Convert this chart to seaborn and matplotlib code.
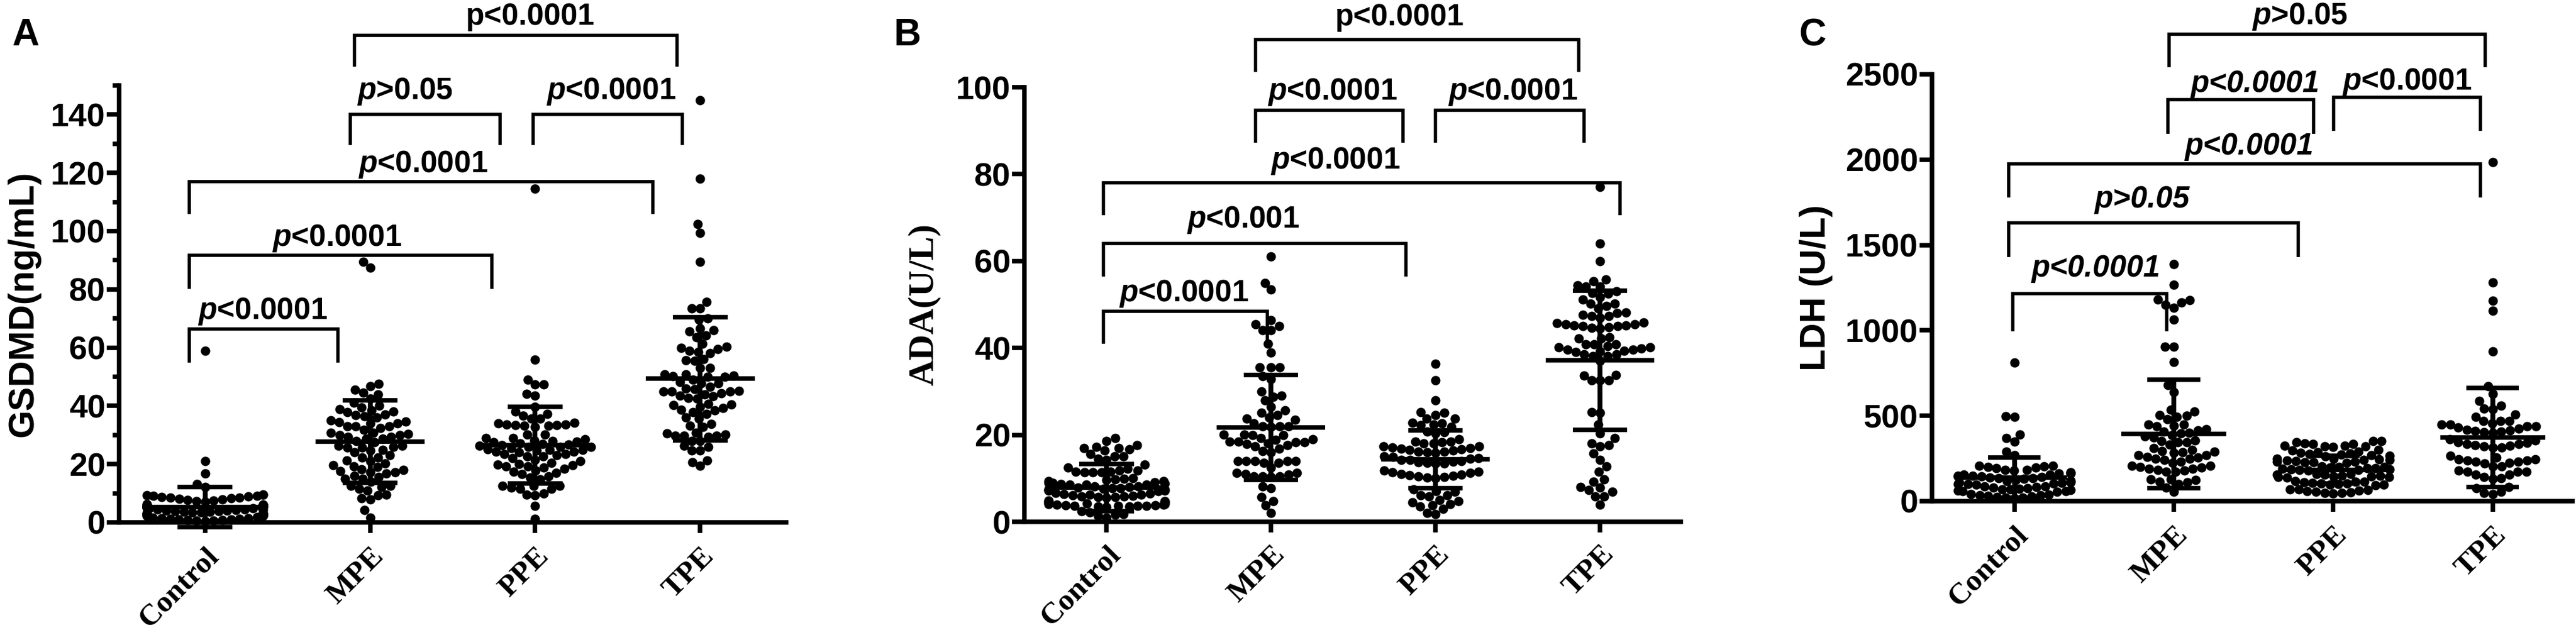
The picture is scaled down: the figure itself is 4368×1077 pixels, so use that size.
import warnings

import numpy as np
import pandas as pd
import matplotlib
matplotlib.use("Agg")
import matplotlib.pyplot as plt
import seaborn as sns
from matplotlib.ticker import MultipleLocator

warnings.filterwarnings("ignore")

GROUPS = ["Control", "MPE", "PPE", "TPE"]

# ---- panel A: GSDMD (ng/mL) ----
GSDMD_CONTROL = [59.0, 21.1, 16.9, 13.2, 12.2,
                 9.6, 9.4, 9.2, 8.9, 8.6, 8.2, 7.8, 7.4, 7.1, 7.3, 7.7, 8.1, 8.5, 8.8, 9.1, 9.5,
                 6.2, 6.0, 5.9, 5.8, 5.6, 5.5, 5.4, 5.3, 5.2, 5.1, 5.0, 4.9, 4.9, 5.0, 5.1, 5.2,
                 5.3, 5.4, 5.5, 5.7, 5.8, 6.0, 6.1,
                 4.5, 4.3, 4.1, 3.9, 3.7, 3.5, 3.3, 3.1, 2.9, 2.7, 2.5, 2.3, 2.2, 2.4, 2.6, 2.8,
                 3.0, 3.2, 3.4, 3.6, 3.8, 4.0, 4.2, 4.4,
                 1.8, 1.5, 1.3, 1.1, 0.9, 0.7, 0.5, 0.6, 0.8, 1.0, 1.2, 1.4, 1.7]
GSDMD_MPE = [89.5, 87.5, 47.6, 45.6, 44.0, 44.6, 46.8, 42.5, 41.0,
             38.9, 38.0, 40.0, 39.5, 38.5, 36.8, 36.0, 36.5, 37.8, 37.0,
             34.6, 34.0, 33.0, 33.0, 31.8, 32.4, 33.0, 34.0, 34.5, 35.0,
             30.7, 30.4, 30.0, 29.4, 28.7, 28.7, 29.4, 30.0, 30.7, 28.0, 27.5,
             26.4, 26.0, 25.7, 24.7, 23.0, 22.3, 22.3, 24.0, 25.0, 25.7, 26.4,
             21.0, 19.6, 19.0, 18.0, 17.2, 17.2, 17.6, 18.2, 19.3, 20.3, 21.3, 16.0,
             15.5, 14.9, 12.5, 12.2, 12.5, 13.9, 14.9, 16.9, 11.5,
             9.5, 8.4, 7.8, 9.3, 10.9, 4.2, 1.7]
GSDMD_PPE = [114.5, 55.8, 49.0, 47.4, 47.4, 43.6, 44.2, 39.6, 37.3, 36.6, 38.1,
             35.6, 34.3, 33.7, 33.5, 33.1, 32.7, 33.1, 33.5, 33.7, 34.1, 35.6, 30.1, 30.1,
             29.0, 28.0, 27.2, 26.3, 25.5, 24.7, 25.1, 25.9, 26.8, 27.6, 28.5, 29.0,
             28.2, 27.0, 26.5, 27.8,
             26.0, 25.0, 24.2, 23.4, 22.7, 22.7, 23.4, 24.2, 25.0, 26.0, 24.0, 23.0, 22.0,
             21.5, 21.0, 20.5,
             19.8, 19.2, 18.8, 17.9, 17.1, 15.8, 16.7, 17.5, 18.4, 19.2, 19.6, 20.0,
             14.8, 15.4, 12.5, 12.0, 11.6, 11.6, 12.5, 12.5, 9.9, 9.3, 9.5, 5.6, 1.3]
GSDMD_TPE = [145.0, 118.0, 102.5, 99.4, 89.5, 75.8, 73.5, 73.5,
             69.7, 70.1, 65.9, 64.2, 65.5, 66.5, 63.6,
             61.3, 59.0, 58.1, 60.0, 60.4, 58.5, 59.6, 55.6, 55.4, 56.0,
             53.0, 53.0, 50.8, 50.3, 49.9, 49.9, 50.5, 50.8, 48.2, 47.8, 47.8, 49.0,
             46.5, 45.7, 45.0, 44.9, 44.9, 45.2, 45.9, 44.4, 43.6, 42.8, 42.6, 43.4, 44.0,
             40.7, 40.2, 40.4, 39.6, 38.7, 37.9, 37.3, 38.4, 39.2,
             36.0, 35.6, 33.2, 32.7, 33.9,
             30.8, 30.1, 29.7, 29.7, 29.4, 29.7, 30.6, 28.0, 26.3, 25.9, 28.0,
             24.7, 24.7, 21.3, 19.4, 20.6]
GSDMD_MEAN = [5.3, 27.8, 26.5, 49.3]
GSDMD_SD = [6.9, 14.2, 13.1, 21.2]

# ---- panel B: ADA (U/L) ----
ADA_CONTROL = [19.2, 18.6, 17.0, 16.7, 17.6, 17.2, 16.4, 17.0,
               15.6, 15.1, 14.5, 15.1, 14.3,
               13.1, 12.2, 11.8, 11.4, 11.6, 11.6, 11.4, 11.4, 11.8, 12.5,
               9.8, 9.4, 9.1, 8.9, 8.7, 8.6, 8.5, 8.6, 8.8, 9.0, 9.3, 9.6, 9.9, 10.0,
               8.1, 7.9, 7.7, 7.5, 7.3, 7.2, 7.1, 7.2, 7.4, 7.6, 7.8, 8.0, 8.2,
               6.6, 6.4, 6.2, 6.0, 5.8, 5.7, 5.6, 5.7, 5.9, 6.1, 6.3, 6.5,
               4.9, 4.7, 4.5, 4.3, 4.1, 4.0, 4.1, 4.2, 4.4, 4.6, 4.8,
               3.8, 3.7, 3.6, 3.5, 3.4, 3.5, 3.6, 3.7, 3.8, 3.9,
               2.2, 1.8, 1.3, 1.0, 1.6, 2.4]
ADA_MPE = [61.0, 55.0, 53.4, 46.4, 45.1, 44.1, 44.1, 45.5, 41.0, 39.0,
           35.5, 35.5, 35.5, 33.5, 32.8, 30.0, 28.7, 28.0, 29.0, 26.5,
           25.1, 24.0, 23.5, 23.8, 24.6, 25.6,
           21.9, 22.0, 22.6, 22.0, 22.0, 20.1, 19.2, 19.9, 20.1, 19.9,
           18.8, 18.5, 18.3, 18.0, 17.6, 16.0, 17.4, 17.9, 18.3, 18.5, 19.0, 16.8,
           16.3, 14.0, 14.0, 13.6, 13.6, 14.0, 14.0, 14.0, 12.5,
           11.2, 10.9, 10.5, 10.5, 10.3, 10.5, 11.0, 11.2,
           7.7, 8.1, 4.8, 5.7, 3.8, 2.1]
ADA_PPE = [36.4, 32.6, 28.0, 25.3, 25.1,
           23.8, 22.8, 22.4, 21.8, 22.2, 22.7, 23.8, 24.6,
           20.6, 19.0, 18.5, 18.0, 18.0, 18.3, 18.5, 20.3, 20.7,
           17.4, 17.1, 16.8, 16.5, 16.2, 16.0, 15.9, 16.1, 16.4, 16.7, 17.0, 17.3,
           15.0, 14.6, 14.3, 14.0, 13.7, 13.5, 13.4, 13.6, 13.9, 14.2, 14.5, 14.9,
           11.8, 11.4, 11.0, 10.7, 10.4, 10.2, 10.1, 10.3, 10.6, 10.9, 11.2, 11.6,
           7.1, 6.1, 5.8, 5.0, 6.1, 6.9, 7.4,
           4.5, 3.8, 3.0, 1.8, 2.1, 3.5, 4.1, 4.8]
ADA_TPE = [77.1, 64.0, 60.0, 55.4, 54.1, 54.1, 54.4, 55.7, 53.0, 52.5, 51.7, 52.6,
           51.1, 50.2, 50.2, 49.6, 49.1, 48.0, 47.3, 47.3, 47.6, 48.2, 47.0,
           45.7, 45.5, 45.2, 45.0, 44.8, 44.5, 44.7, 45.0, 45.2, 45.5, 45.8,
           42.5, 42.2, 42.2, 40.9, 40.4, 40.1, 39.9, 40.1, 40.8, 40.8,
           39.6, 39.3, 39.1, 38.5, 38.1, 37.0, 38.1, 38.5, 39.2, 39.6,
           33.7, 32.5, 32.5, 32.5, 33.8,
           25.1, 25.3, 22.4, 20.3, 19.3, 18.0, 17.4, 17.7, 15.7, 14.3, 12.7, 11.5,
           9.2, 9.8, 7.9, 7.3, 8.0, 6.9, 5.9, 5.8, 4.0]
ADA_MEAN = [7.9, 21.7, 14.35, 37.2]
ADA_SD = [5.4, 12.1, 6.65, 16.0]

# ---- panel C: LDH (U/L) ----
LDH_CONTROL = [813, 498, 495, 391, 368, 349, 291, 270,
               207, 204, 196, 184, 178, 184, 192, 201, 207,
               168, 162, 156, 150, 145, 140, 136, 132, 135, 139, 144, 149, 155, 161, 167,
               124, 118, 112, 106, 101, 97, 100, 104, 109, 115, 121,
               88, 82, 76, 70, 64, 58, 54, 57, 62, 68, 74, 80, 86,
               42, 36, 30, 25, 20, 18, 22, 27, 33, 39]
LDH_MPE = [1387, 1268, 1177, 1151, 1133, 1162, 1180, 1062, 903, 903, 815, 679, 639, 535, 526,
           501, 480, 449, 437, 443, 449, 495, 503, 420,
           414, 397, 380, 357, 345, 345, 351, 374, 386, 399, 408, 330, 310,
           299, 291, 282, 270, 224, 247, 259, 270, 288, 293,
           256, 250, 240, 232,
           207, 201, 190, 178, 173, 173, 184, 190, 196, 207,
           123, 115, 100, 112, 127, 127, 54, 80]
LDH_PPE = [334, 320, 322, 351, 335, 351, 340, 318, 323, 323, 345,
           300, 290, 282, 275, 268, 262, 266, 272, 280, 288, 296,
           250, 245, 240, 236, 232, 228, 226, 229, 233, 238, 243, 248,
           205, 200, 195, 190, 186, 182, 180, 183, 187, 192, 197, 202,
           160, 155, 150, 146, 142, 139, 141, 145, 149, 154, 158,
           118, 113, 108, 102, 97, 93, 96, 100, 105, 110, 115,
           70, 64, 58, 52, 48, 45, 50, 56, 62, 68]
LDH_TPE = [1985, 1280, 1173, 1115, 876, 675, 628, 559, 539, 542, 587,
           509, 471, 471, 450, 450, 457, 471, 495,
           440, 430, 419, 412, 405, 402, 408, 415, 423, 437,
           361, 345, 334, 327, 320, 314, 314, 323, 334, 341, 355,
           266, 246, 239, 232, 225, 205, 205, 222, 232, 239, 246, 255,
           180, 171, 157, 143, 130, 136, 157, 171, 171,
           82, 55, 41, 48, 75]
LDH_MEAN = [137, 393, 184, 372]
LDH_SD = [118, 318, 82, 290]

# significance brackets: x_left, x_right, y_line, y_leg, label, text_x, text_y, style
GSDMD_BRACKETS = [
    (-0.094, 0.805, 66.4, 54.8, "p<0.0001", 0.35, 69.9, "pit"),
    (-0.094, 1.738, 91.8, 80.1, "p<0.0001", 0.80, 95.0, "pit"),
    (-0.094, 2.711, 117.1, 105.9, "p<0.0001", 1.32, 120.2, "pit"),
    (0.879, 1.789, 140.1, 129.5, "p>0.05", 1.21, 145.3, "pit"),
    (1.987, 2.893, 140.1, 129.5, "p<0.0001", 2.46, 145.3, "pit"),
    (0.906, 2.859, 167.2, 156.5, "p<0.0001", 1.97, 170.9, "plain"),
]
ADA_BRACKETS = [
    (-0.02, 0.976, 48.5, 41.0, "p<0.0001", 0.47, 50.8, "pit"),
    (-0.02, 1.818, 64.0, 56.5, "p<0.001", 0.83, 67.7, "pit"),
    (-0.02, 3.121, 78.0, 70.5, "p<0.0001", 1.39, 81.3, "pit"),
    (0.906, 1.801, 94.7, 87.2, "p<0.0001", 1.37, 97.2, "pit"),
    (2.0, 2.902, 94.7, 87.2, "p<0.0001", 2.47, 97.2, "pit"),
    (0.906, 2.869, 111.0, 103.5, "p<0.0001", 1.78, 114.3, "plain"),
]
LDH_BRACKETS = [
    (-0.01, 0.956, 1214, 993, "p<0.0001", 0.51, 1314, "allit"),
    (-0.034, 1.782, 1629, 1429, "p>0.05", 0.80, 1719, "allit"),
    (-0.034, 2.924, 1976, 1779, "p<0.0001", 1.47, 2029, "allit"),
    (0.963, 1.875, 2350, 2152, "p<0.0001", 1.51, 2398, "allit"),
    (2.002, 2.924, 2367, 2167, "p<0.0001", 2.46, 2410, "pit"),
    (0.970, 2.951, 2736, 2540, "p>0.05", 1.79, 2795, "pit"),
]

sns.set_style("ticks")
plt.rcParams["font.family"] = ["Liberation Sans", "DejaVu Sans"]
plt.rcParams["font.weight"] = "bold"
plt.rcParams["mathtext.fontset"] = "custom"
plt.rcParams["mathtext.it"] = "Liberation Sans:italic:bold"
plt.rcParams["mathtext.rm"] = "Liberation Sans:bold"
for key in ["axes.edgecolor", "xtick.color", "ytick.color", "text.color", "axes.labelcolor"]:
    plt.rcParams[key] = "black"

LW = 5.5
SQUASH = 0.88


def make_frame(groups):
    rows = []
    for name, vals in zip(GROUPS, groups):
        rows += [(name, v) for v in vals]
    return pd.DataFrame(rows, columns=["group", "value"])


def draw_panel(ax, groups, means, sds, brackets, ylim, major, minor, xlim, ylabel,
               label_family, label_x, xpad):
    df = make_frame(groups)
    sns.swarmplot(data=df, x="group", y="value", order=GROUPS, color="black",
                  size=11.5, linewidth=0, ax=ax)
    ax.set_xlim(*xlim)
    ax.set_ylim(*ylim)

    # let seaborn lay out the swarm, then pull it in to the GraphPad width
    ax.figure.canvas.draw()
    for coll in ax.collections:
        if "draw" in coll.__dict__:
            del coll.draw
        off = np.asarray(coll.get_offsets(), dtype=float)
        if len(off) == 0:
            continue
        center = np.round(np.median(off[:, 0]))
        off[:, 0] = center + (off[:, 0] - center) * SQUASH
        coll.set_offsets(off)
        coll.set_clip_on(False)

    for i, (m, s) in enumerate(zip(means, sds)):
        ax.hlines(m, i - 0.33, i + 0.33, color="black", lw=LW, zorder=5, clip_on=False)
        ax.hlines([m - s, m + s], i - 0.165, i + 0.165, color="black", lw=LW, zorder=5,
                  clip_on=False)
        ax.vlines(i, m - s, m + s, color="black", lw=LW + 0.5, zorder=5, clip_on=False)

    for x1, x2, yl, yb, txt, tx, ty, style in brackets:
        ax.plot([x1, x1, x2, x2], [yb, yl, yl, yb], color="black", lw=4,
                clip_on=False, solid_joinstyle="miter", solid_capstyle="butt")
        if style == "pit":
            ax.text(tx, ty, "$p$" + txt[1:], ha="center", va="baseline", fontsize=37,
                    fontweight="bold", clip_on=False)
        elif style == "allit":
            ax.text(tx, ty, txt, ha="center", va="baseline", fontsize=37,
                    fontweight="bold", fontstyle="italic", clip_on=False)
        else:
            ax.text(tx, ty, txt, ha="center", va="baseline", fontsize=37,
                    fontweight="bold", clip_on=False)

    sns.despine(ax=ax)
    for side in ["left", "bottom"]:
        ax.spines[side].set_linewidth(LW)
    ax.yaxis.set_major_locator(MultipleLocator(major))
    if minor:
        ax.yaxis.set_minor_locator(MultipleLocator(minor))
    ax.tick_params(axis="y", which="major", length=15, width=LW, pad=2, labelsize=40)
    ax.tick_params(axis="y", which="minor", length=8, width=LW)
    ax.tick_params(axis="x", length=13, width=LW, pad=xpad)
    ax.set_xticks(range(len(GROUPS)))
    ax.set_xticklabels(GROUPS, rotation=45, ha="right", va="top", rotation_mode="anchor",
                       fontfamily="Liberation Serif", fontsize=37, fontweight="bold")
    for lab in ax.get_yticklabels():
        lab.set_fontweight("bold")
    ax.set_xlabel("")
    ax.set_ylabel(ylabel, fontsize=44, fontweight="bold", fontfamily=label_family)
    ax.yaxis.set_label_coords(label_x, 0.5)


fig = plt.figure(figsize=(43.68, 10.77), dpi=100)
W, H = 4368, 1077

ax_a = fig.add_axes([202 / W, (H - 886) / H, 1131 / W, (886 - 145) / H])
ax_b = fig.add_axes([1737 / W, (H - 885) / H, 1113 / W, (885 - 148) / H])
ax_c = fig.add_axes([3276 / W, (H - 850) / H, 1086 / W, (850 - 126) / H])

draw_panel(ax_a, [GSDMD_CONTROL, GSDMD_MPE, GSDMD_PPE, GSDMD_TPE], GSDMD_MEAN, GSDMD_SD,
           GSDMD_BRACKETS, (0, 150), 20, 10, (-0.52, 3.52), "GSDMD(ng/mL)",
           ["Liberation Sans", "DejaVu Sans"], -0.118, 11.5)
draw_panel(ax_b, [ADA_CONTROL, ADA_MPE, ADA_PPE, ADA_TPE], ADA_MEAN, ADA_SD,
           ADA_BRACKETS, (0, 100), 20, None, (-0.5, 3.49), "ADA(U/L)",
           ["Liberation Serif", "DejaVu Serif"], -0.127, 10)
draw_panel(ax_c, [LDH_CONTROL, LDH_MPE, LDH_PPE, LDH_TPE], LDH_MEAN, LDH_SD,
           LDH_BRACKETS, (0, 2500), 500, None, (-0.516, 3.5), "LDH (U/L)",
           ["Liberation Sans", "DejaVu Sans"], -0.155, 12)

for letter, px in [("A", 20), ("B", 1516), ("C", 3050)]:
    fig.text(px / W, 1 - 77 / H, letter, fontsize=46, fontweight="bold",
             ha="left", va="baseline")

fig.savefig("out.png", dpi=100, facecolor="white")
